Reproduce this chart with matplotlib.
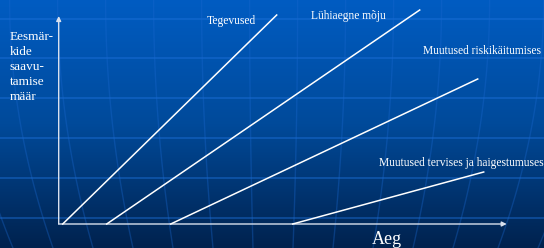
import numpy as np
from matplotlib import pyplot as plt
from matplotlib.colors import LinearSegmentedColormap

# joonte algus- ja lõpp-punktid (aeg, tase)
nimed = ["Tegevused", "Lühiaegne mõju", "Muutused riskikäitumises",
         "Muutused tervises ja haigestumuses"]
algus_x = [4, 48, 112, 234]
lopp_x = [218, 361, 419, 425]
lopp_y = [209, 214, 145, 52]
silt_x = [173, 290, 423, 403]
silt_y = [203, 208, 173, 61]

y_silt = "Eesmär-\nkide\nsaavu-\ntamise\nmäär"
x_silt = "Aeg"

plt.rcParams['font.family'] = ['Liberation Serif', 'DejaVu Serif']

fig = plt.figure(figsize=(5.44, 2.48), dpi=100)
ax = fig.add_axes([0, 0, 1, 1])
x0, x1, y0, y1 = -58.7, 485.3, -24, 224
ax.set_xlim(x0, x1)
ax.set_ylim(y0, y1)
ax.axis("off")

# taust: sinine üleminek
grad = np.linspace(0, 1, 256).reshape(-1, 1)
cmap = LinearSegmentedColormap.from_list("bg", ["#005cc2", "#004a9a", "#00224e"])
ax.imshow(grad, cmap=cmap, extent=[x0, x1, y0, y1], aspect="auto", zorder=0)

# heledad võrgujooned taustal
for yy in [205, 166, 126, 86, 46, 6]:
    ax.axhline(yy, color="#1f72dc", lw=1.2, alpha=0.5, zorder=1)
py = np.linspace(0, 248, 60)
for xb in [13, 53, 93, 133, 173, 213, 253, 293, 333, 373, 413, 453, 498, 538]:
    px = xb + (xb - 270) * 0.2 * (1 - (py / 248) ** 2)
    ax.plot(px + x0, y1 - py, color="#1a68d0", lw=1, alpha=0.35, zorder=1)

# teljed noolega
nool = dict(arrowstyle="-|>", color="#d8e0ee", lw=1, mutation_scale=7,
            shrinkA=0, shrinkB=0)
ax.annotate("", xy=(448, 0), xytext=(0, 0), arrowprops=nool, zorder=3)
ax.annotate("", xy=(0, 208), xytext=(0, 0), arrowprops=nool, zorder=3)

for i in range(len(nimed)):
    ax.plot([algus_x[i], lopp_x[i]], [0, lopp_y[i]], color="white", lw=1.1, zorder=4)
    ax.text(silt_x[i], silt_y[i], nimed[i], color="white", fontsize=8.3,
            ha="center", va="center", zorder=5)

ax.text(-49, 193, y_silt, color="white", fontsize=9.5, ha="left", va="top",
        linespacing=1.32, zorder=5)
ax.text(328, -15, x_silt, color="white", fontsize=13, ha="center", va="center", zorder=5)

fig.savefig("out.png", dpi=100)
